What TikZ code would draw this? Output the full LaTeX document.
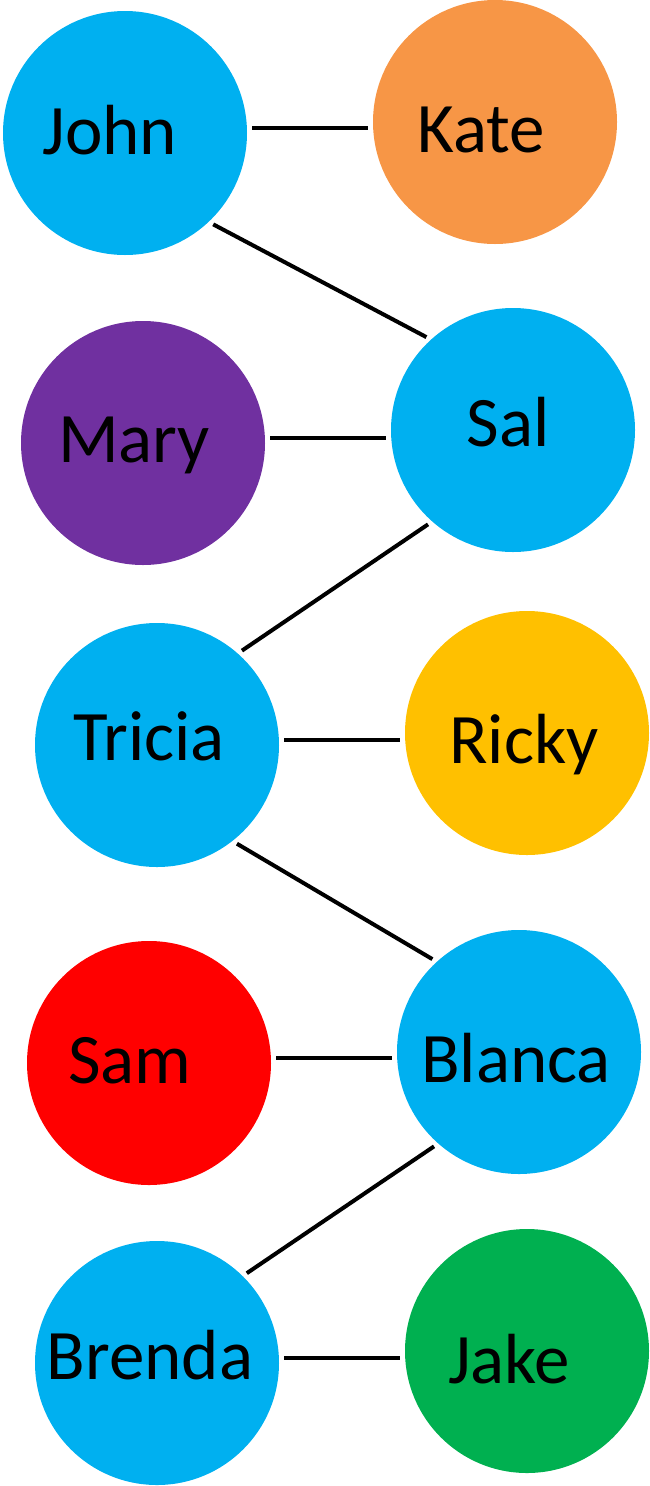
\documentclass[tikz,border=0pt]{standalone}
\usepackage{fontspec}
\setmainfont{Carlito}
\definecolor{cblue}{HTML}{00B0F0}
\definecolor{corange}{HTML}{F79646}
\definecolor{cpurple}{HTML}{7030A0}
\definecolor{cyellow}{HTML}{FFC000}
\definecolor{cred}{HTML}{FF0000}
\definecolor{cgreen}{HTML}{00B050}
\newcommand{\nm}[3]{\raisebox{-#2pt}{#3}\kern#1pt}
\begin{document}
\begin{tikzpicture}[x=1pt,y=-1pt,
  person/.style={circle,minimum size=244pt,inner sep=0pt,outer sep=5pt,
    text height=0pt,text depth=0pt,
    font=\fontsize{71}{85}\selectfont,text=black},
  link/.style={line width=4pt,black}]
\useasboundingbox (0,0) rectangle (649,1486);
\node[person,fill=cblue]   (john)   at (125,133)  {\nm{30}{21}{John}};
\node[person,fill=corange] (kate)   at (495,122)  {\nm{28}{30}{Kate}};
\node[person,fill=cblue]   (sal)    at (513,430)  {\nm{10}{16}{Sal}};
\node[person,fill=cpurple] (mary)   at (143,443)  {\nm{18}{19}{Mary}};
\node[person,fill=cblue]   (tricia) at (157,745)  {\nm{16}{15}{Tricia}};
\node[person,fill=cyellow] (ricky)  at (527,733)  {\nm{6}{30}{Ricky}};
\node[person,fill=cblue]   (blanca) at (519,1052) {\nm{6}{30}{Blanca}};
\node[person,fill=cred]    (sam)    at (149,1063) {\nm{38}{20}{Sam}};
\node[person,fill=cblue]   (brenda) at (157,1363) {\nm{14}{16}{Brenda}};
\node[person,fill=cgreen]  (jake)   at (527,1351) {\nm{36}{32}{Jake}};
\draw[link] ([yshift=5pt]john.east) -- ([yshift=5pt]john.east -| kate.west);
\draw[link] (john.-46) -- (sal.133);
\draw[link] ([yshift=5pt]mary.east) -- ([yshift=5pt]mary.east -| sal.west);
\draw[link] (sal.228) -- (tricia.48);
\draw[link] ([yshift=5pt]tricia.east) -- ([yshift=5pt]tricia.east -| ricky.west);
\draw[link] (tricia.-51) -- (blanca.133);
\draw[link] ([yshift=5pt]sam.east) -- ([yshift=5pt]sam.east -| blanca.west);
\draw[link] (blanca.228) -- (brenda.45);
\draw[link] ([yshift=5pt]brenda.east) -- ([yshift=5pt]brenda.east -| jake.west);
\end{tikzpicture}
\end{document}
